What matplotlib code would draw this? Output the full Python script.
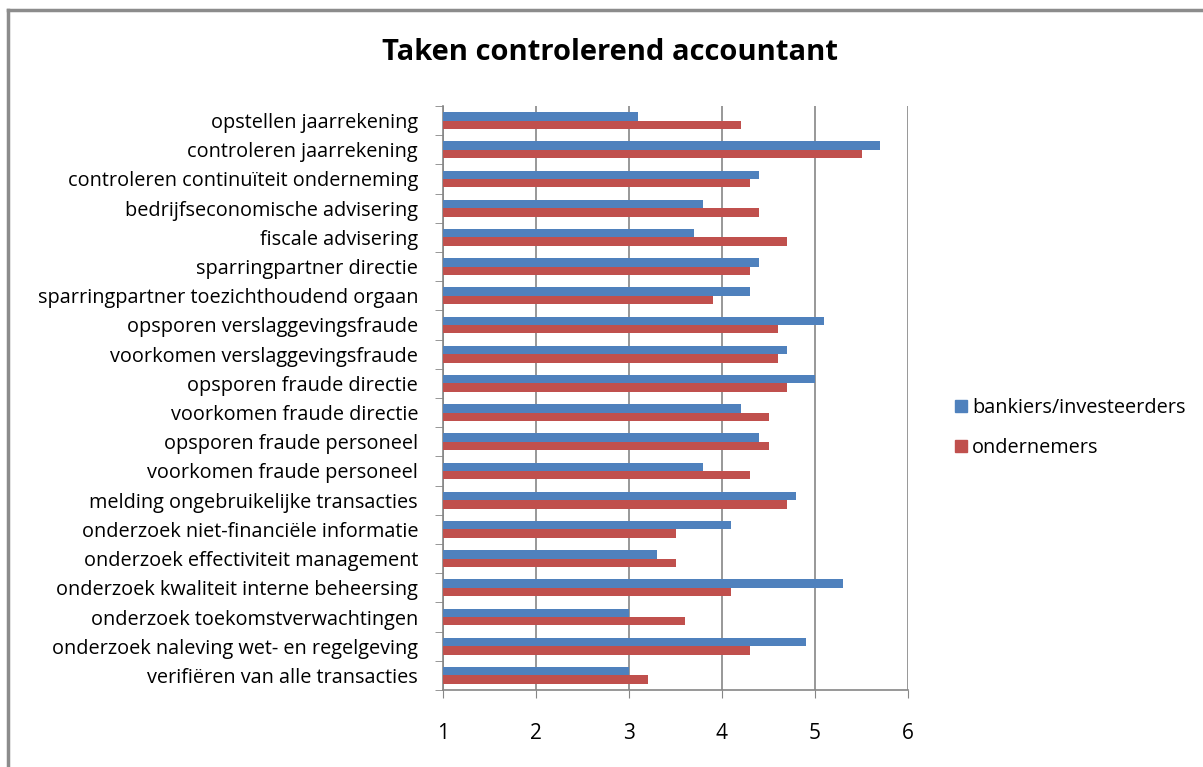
import numpy as np
import matplotlib.pyplot as plt
from matplotlib.lines import Line2D

plt.rcParams['font.family'] = ['Open Sans', 'DejaVu Sans']

taken = [
    "opstellen jaarrekening",
    "controleren jaarrekening",
    "controleren continuïteit onderneming",
    "bedrijfseconomische advisering",
    "fiscale advisering",
    "sparringpartner directie",
    "sparringpartner toezichthoudend orgaan",
    "opsporen verslaggevingsfraude",
    "voorkomen verslaggevingsfraude",
    "opsporen fraude directie",
    "voorkomen fraude directie",
    "opsporen fraude personeel",
    "voorkomen fraude personeel",
    "melding ongebruikelijke transacties",
    "onderzoek niet-financiële informatie",
    "onderzoek effectiviteit management",
    "onderzoek kwaliteit interne beheersing",
    "onderzoek toekomstverwachtingen",
    "onderzoek naleving wet- en regelgeving",
    "verifiëren van alle transacties",
]
bankiers = [3.1, 5.7, 4.4, 3.8, 3.7, 4.4, 4.3, 5.1, 4.7, 5.0,
            4.2, 4.4, 3.8, 4.8, 4.1, 3.3, 5.3, 3.0, 4.9, 3.0]
ondernemers = [4.2, 5.5, 4.3, 4.4, 4.7, 4.3, 3.9, 4.6, 4.6, 4.7,
               4.5, 4.5, 4.3, 4.7, 3.5, 3.5, 4.1, 3.6, 4.3, 3.2]
series_names = ["bankiers/investeerders", "ondernemers"]

BLUE = "#4F81BD"
RED = "#C0504D"
GRID = "#868686"

fig = plt.figure(figsize=(12.03, 7.67), dpi=100)
ax = fig.add_axes([443 / 1203, 1 - 690 / 767, 465 / 1203, 584 / 767])

n = len(taken)
y = np.arange(n)
h = 0.29
ax.barh(y - h / 2, np.array(bankiers) - 1, left=1, height=h, color=BLUE, label=series_names[0], zorder=3)
ax.barh(y + h / 2, np.array(ondernemers) - 1, left=1, height=h, color=RED, label=series_names[1], zorder=3)

ax.set_xlim(1, 6)
ax.set_ylim(n - 0.5, -0.5)
ax.set_xticks(range(1, 7))
ax.tick_params(axis='x', direction='out', length=6, color=GRID, pad=18, labelsize=15)

ax.set_yticks(y)
ax.set_yticklabels(taken, fontsize=14.3)
ax.set_yticks(np.arange(n + 1) - 0.5, minor=True)
ax.tick_params(axis='y', which='major', length=0, pad=18)
ax.tick_params(axis='y', which='minor', direction='out', length=6, color=GRID)

ax.grid(axis='x', color=GRID, linewidth=1.2, zorder=0)
for s in ['top', 'right']:
    ax.spines[s].set_visible(False)
for s in ['left', 'bottom']:
    ax.spines[s].set_color(GRID)
    ax.spines[s].set_linewidth(1.2)

fig.text(610 / 1203, 1 - 52 / 767, "Taken controlerend accountant",
         fontsize=21, fontweight='bold', ha='center', va='center')

handles = [Line2D([], [], marker='s', linestyle='none', markersize=9, color=c)
           for c in (BLUE, RED)]
fig.legend(handles, series_names, loc='upper left', bbox_to_anchor=(937 / 1203, 1 - 380 / 767),
           frameon=False, fontsize=14.3, handlelength=0.6, handletextpad=0.25, labelspacing=1.0)

# chart area border (cut off at right and bottom)
fig.add_artist(Line2D([8 / 1203, 8 / 1203], [0, 1 - 10 / 767], color="#8C8C8C", linewidth=2.5,
                      transform=fig.transFigure))
fig.add_artist(Line2D([8 / 1203, 1], [1 - 10 / 767, 1 - 10 / 767], color="#8C8C8C", linewidth=2.5,
                      transform=fig.transFigure))

fig.savefig("out.png", dpi=100)
